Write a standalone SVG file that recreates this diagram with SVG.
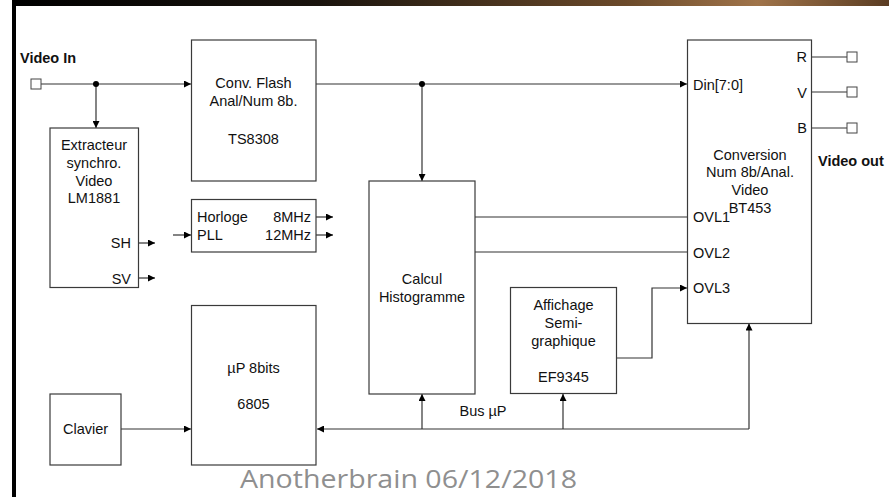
<svg xmlns="http://www.w3.org/2000/svg" width="889" height="497" viewBox="0 0 889 497">
<defs>
<linearGradient id="topbar" x1="0" y1="0" x2="1" y2="0">
<stop offset="0" stop-color="#000"/>
<stop offset="0.35" stop-color="#1a140e"/>
<stop offset="0.7" stop-color="#6b4a2a"/>
<stop offset="0.85" stop-color="#a0744a"/>
<stop offset="1" stop-color="#5a3c22"/>
</linearGradient>
<marker id="arr" viewBox="0 0 10 10" refX="10" refY="5" markerWidth="7" markerHeight="7" markerUnits="userSpaceOnUse" orient="auto">
<path d="M0,0 L10,5 L0,10 z" fill="#000"/>
</marker>
</defs>
<style>
.box{fill:#fff;stroke:#3a3a3a;stroke-width:1.2}
.ln{fill:none;stroke:#333;stroke-width:1.2}
.t{font-family:"Liberation Sans",Arial,sans-serif;font-size:14.5px;fill:#111}
.c{text-anchor:middle}
.r{text-anchor:end}
.b{font-weight:bold}
.port{fill:#fff;stroke:#444;stroke-width:1}
</style>
<rect x="0" y="0" width="889" height="497" fill="#fff"/>
<rect x="12" y="0" width="877" height="6" fill="url(#topbar)"/>
<rect x="12" y="0" width="4" height="497" fill="#000"/>

<g id="connectors">
<path class="ln" d="M41,84 H191" marker-end="url(#arr)"/>
<path class="ln" d="M96,84 V128" marker-end="url(#arr)"/>
<path class="ln" d="M316,84 H687" marker-end="url(#arr)"/>
<path class="ln" d="M422,84 V181" marker-end="url(#arr)"/>
<path class="ln" d="M139,243 H155" marker-end="url(#arr)"/>
<path class="ln" d="M139,278 H155" marker-end="url(#arr)"/>
<path class="ln" d="M173,235 H191" marker-end="url(#arr)"/>
<path class="ln" d="M316,217 H333" marker-end="url(#arr)"/>
<path class="ln" d="M316,235 H333" marker-end="url(#arr)"/>
<path class="ln" d="M475,217 H687"/>
<path class="ln" d="M475,252 H687"/>
<path class="ln" d="M617,358 H652 V288 H687" marker-end="url(#arr)"/>
<path class="ln" d="M121,429 H191" marker-end="url(#arr)"/>
<path class="ln" d="M749,429 H317" marker-end="url(#arr)"/>
<path class="ln" d="M749,429 V323.5" marker-end="url(#arr)"/>
<path class="ln" d="M422,429 V394" marker-end="url(#arr)"/>
<path class="ln" d="M563,429 V394" marker-end="url(#arr)"/>
<path class="ln" d="M811,57 H847"/>
<path class="ln" d="M811,92 H847"/>
<path class="ln" d="M811,128 H847"/>
<circle cx="96" cy="84" r="3" fill="#000"/>
<circle cx="422" cy="84" r="3" fill="#000"/>
<text class="t c" x="483" y="416">Bus µP</text>
</g>

<g id="video-in">
<rect class="port" x="31" y="79" width="10" height="10"/>
<text class="t b" x="20" y="63">Video In</text>
</g>

<g id="video-out">
<rect class="port" x="847" y="52" width="10" height="10"/>
<rect class="port" x="847" y="87" width="10" height="10"/>
<rect class="port" x="847" y="123" width="10" height="10"/>
<text class="t b" x="818" y="166">Video out</text>
</g>

<g id="conv-flash">
<rect class="box" x="191.5" y="40" width="124.5" height="141"/>
<text class="t c" x="253.5" y="88">Conv. Flash</text>
<text class="t c" x="253.5" y="106">Anal/Num 8b.</text>
<text class="t c" x="253.5" y="144">TS8308</text>
</g>

<g id="extracteur">
<rect class="box" x="50" y="128" width="88.5" height="159.5"/>
<text class="t c" x="94" y="150">Extracteur</text>
<text class="t c" x="94" y="168">synchro.</text>
<text class="t c" x="94" y="186">Video</text>
<text class="t c" x="94" y="203">LM1881</text>
<text class="t r" x="131" y="248">SH</text>
<text class="t r" x="131" y="284">SV</text>
</g>

<g id="horloge">
<rect class="box" x="191.5" y="199.5" width="124.5" height="52.5"/>
<text class="t" x="197" y="222">Horloge</text>
<text class="t" x="197" y="240">PLL</text>
<text class="t r" x="311" y="222">8MHz</text>
<text class="t r" x="311" y="240">12MHz</text>
</g>

<g id="up">
<rect class="box" x="191.5" y="305.5" width="124.5" height="159.5"/>
<text class="t c" x="253.5" y="373">µP 8bits</text>
<text class="t c" x="253.5" y="409">6805</text>
</g>

<g id="clavier">
<rect class="box" x="50" y="394" width="71" height="71"/>
<text class="t c" x="85.5" y="434">Clavier</text>
</g>

<g id="calcul">
<rect class="box" x="369" y="181" width="106" height="213"/>
<text class="t c" x="422" y="284">Calcul</text>
<text class="t c" x="422" y="302">Histogramme</text>
</g>

<g id="affichage">
<rect class="box" x="510.5" y="287.5" width="106" height="106"/>
<text class="t c" x="563.5" y="310">Affichage</text>
<text class="t c" x="563.5" y="328">Semi-</text>
<text class="t c" x="563.5" y="346">graphique</text>
<text class="t c" x="563.5" y="382">EF9345</text>
</g>

<g id="conversion">
<rect class="box" x="687.5" y="40" width="124" height="283.5"/>
<text class="t" x="693" y="90">Din[7:0]</text>
<text class="t r" x="807" y="62">R</text>
<text class="t r" x="807" y="98">V</text>
<text class="t r" x="807" y="133">B</text>
<text class="t c" x="750" y="160">Conversion</text>
<text class="t c" x="750" y="177">Num 8b/Anal.</text>
<text class="t c" x="750" y="195">Video</text>
<text class="t c" x="750" y="213">BT453</text>
<text class="t" x="693" y="222">OVL1</text>
<text class="t" x="693" y="258">OVL2</text>
<text class="t" x="693" y="293">OVL3</text>
</g>

<text x="240" y="488" font-family="'Open Sans','Liberation Sans',sans-serif" font-size="25" fill="#8f8f8f" textLength="337" lengthAdjust="spacingAndGlyphs">Anotherbrain  06/12/2018</text>
</svg>
